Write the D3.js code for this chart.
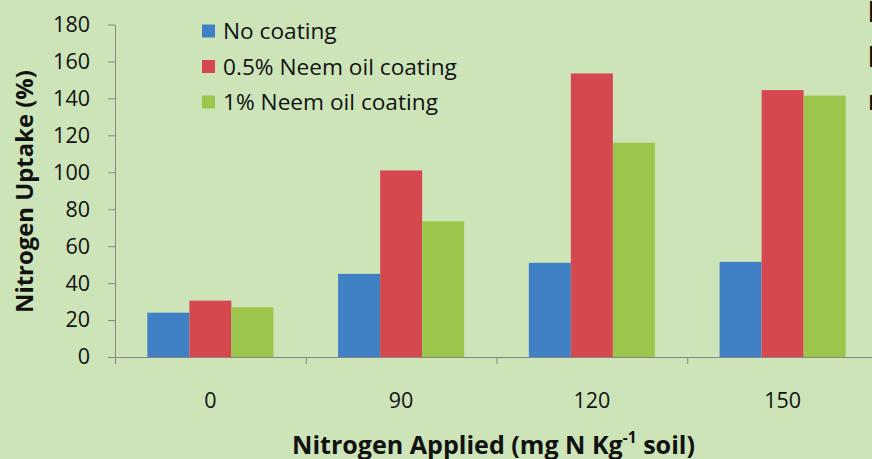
<!DOCTYPE html>
<html>
<head>
<meta charset="utf-8">
<script src="https://cdn.jsdelivr.net/npm/d3@7"></script>
<style>
  html, body { margin: 0; padding: 0; background: #cce4b8; }
  svg { display: block; font-family: "Open Sans", sans-serif; }
</style>
</head>
<body>
<svg id="chart" width="872" height="459"></svg>
<script>
// data
var categories = ["0", "90", "120", "150"];
var seriesNames = ["No coating", "0.5% Neem oil coating", "1% Neem oil coating"];
var noCoating = [24, 45, 51, 51.5];
var neem05 = [30.5, 101, 153.5, 144.5];
var neem1 = [27, 73.5, 116, 141.5];
var yTicks = [0, 20, 40, 60, 80, 100, 120, 140, 160, 180];
var edgeLetters = ["l", "l", "r"];

var colors = ["#4080c5", "#d5494e", "#9cc64b"];
var seriesValues = [noCoating, neem05, neem1];

var svg = d3.select("#chart");
var plotLeft = 115, plotRight = 878, plotTop = 24.5, plotBottom = 357;

var x0 = d3.scaleBand().domain(categories).range([plotLeft, plotRight]).padding(0);
var x1 = d3.scaleBand().domain(seriesNames).range([0, x0.bandwidth()]).paddingInner(0).paddingOuter(0.77);
var y = d3.scaleLinear().domain([0, 180]).range([plotBottom, plotTop]);

// shrink/grow a text so it spans the width seen in the picture
function fitWidth(sel, target){
    var w = sel.node().getComputedTextLength();
    var fs = parseFloat(sel.attr("font-size"));
    sel.attr("font-size", fs * target / w);
}

//bars
var groups = svg.selectAll("g.cat")
    .data(categories)
    .enter().append("g")
    .attr("class", "cat")
    .attr("transform", function(d){ return "translate(" + x0(d) + ",0)"; });

groups.selectAll("rect")
    .data(function(d, i){
        return seriesNames.map(function(s, j){ return {name: s, value: seriesValues[j][i], color: colors[j]}; });
    })
    .enter().append("rect")
    .attr("x", function(d){ return x1(d.name); })
    .attr("y", function(d){ return y(d.value); })
    .attr("width", x1.bandwidth())
    .attr("height", function(d){ return plotBottom - y(d.value); })
    .attr("fill", function(d){ return d.color; });

// y axis
var yAxis = svg.append("g")
    .attr("transform", "translate(" + plotLeft + ",0)")
    .call(d3.axisLeft(y).tickValues(yTicks).tickSize(7).tickPadding(18).tickSizeOuter(0));
yAxis.selectAll("line, path").attr("stroke", "#878787");
yAxis.selectAll("text").attr("font-size", 21.5).attr("fill", "#111").attr("font-family", "'Open Sans', sans-serif");

// x axis: ticks sit on the category boundaries
var bounds = d3.scaleLinear().domain([0, categories.length]).range([plotLeft, plotRight]);
var xTickAxis = svg.append("g")
    .attr("transform", "translate(0," + plotBottom + ")")
    .call(d3.axisBottom(bounds).tickValues(d3.range(categories.length + 1)).tickSize(7).tickSizeOuter(0).tickFormat(""));
xTickAxis.selectAll("line, path").attr("stroke", "#878787");

var xAxis = svg.append("g")
    .attr("transform", "translate(0," + plotBottom + ")")
    .call(d3.axisBottom(x0).tickSize(0).tickPadding(36));
xAxis.select("path").remove();
xAxis.selectAll("text").attr("font-size", 21.5).attr("fill", "#111").attr("font-family", "'Open Sans', sans-serif");

// axis titles
var xTitle = svg.append("text")
    .attr("x", (plotLeft + plotRight) / 2 - 3)
    .attr("y", 454)
    .attr("text-anchor", "middle")
    .attr("font-size", 22)
    .attr("font-weight", "bold")
    .attr("fill", "#111");
xTitle.append("tspan").text("Nitrogen Applied (mg N Kg");
xTitle.append("tspan").attr("font-size", "0.62em").attr("baseline-shift", "super").text("-1");
xTitle.append("tspan").text(" soil)");
fitWidth(xTitle, 403);

var yTitle = svg.append("text")
    .attr("transform", "translate(33,191.5) rotate(-90)")
    .attr("text-anchor", "middle")
    .attr("font-size", 22)
    .attr("font-weight", "bold")
    .attr("fill", "#111")
    .text("Nitrogen Uptake (%)");
fitWidth(yTitle, 243);

// legend
var legend = svg.selectAll("g.legend")
    .data(seriesNames)
    .enter().append("g")
    .attr("class", "legend")
    .attr("transform", function(d, i){ return "translate(202," + (31 + i * 35.5) + ")"; });
legend.append("rect")
    .attr("x", 0).attr("y", -6.5)
    .attr("width", 13).attr("height", 13)
    .attr("fill", function(d, i){ return colors[i]; });
var legendText = legend.append("text")
    .attr("x", 21).attr("dy", "0.36em")
    .attr("font-size", 21)
    .attr("fill", "#111")
    .text(function(d){ return d; });
var longest = d3.select(legendText.nodes()[1]);
fitWidth(longest, 234);
legendText.attr("font-size", longest.attr("font-size"));

// cut-off letters at the right edge
svg.selectAll("text.edge")
    .data(edgeLetters)
    .enter().append("text")
    .attr("class", "edge")
    .attr("x", 868)
    .attr("y", function(d, i){ return [22, 67, 110][i]; })
    .attr("font-size", 26)
    .attr("font-weight", "bold")
    .attr("fill", "#111")
    .text(function(d){ return d; });
</script>
</body>
</html>
